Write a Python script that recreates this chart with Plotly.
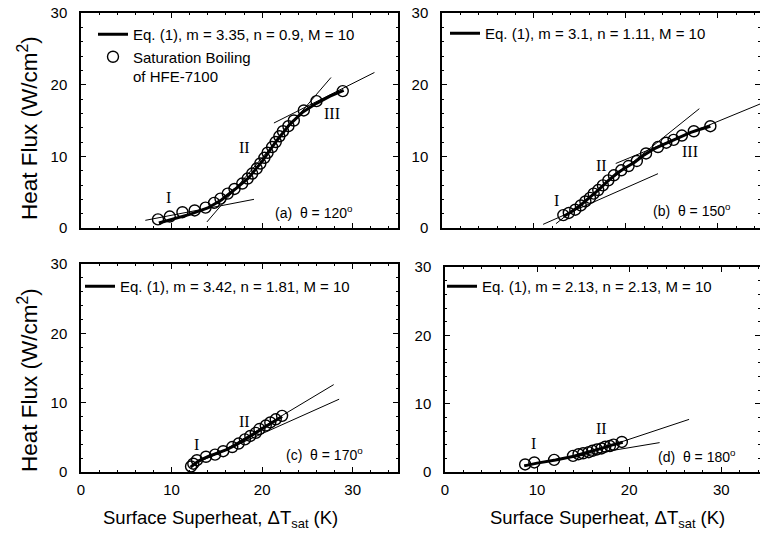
import plotly.graph_objects as go

# ---------------- data ----------------
# Panel (a)  theta = 120 deg
a_x = [8.5, 9.8, 11.2, 12.55, 13.75, 14.7, 15.4, 16.2, 16.95, 17.8, 18.4, 18.9, 19.4,
       19.8, 20.25, 20.6, 21.1, 21.5, 21.9, 22.3, 22.9, 23.5, 24.6, 26.0, 28.9]
a_y = [1.2, 1.6, 2.2, 2.45, 2.85, 3.5, 4.1, 4.8, 5.45, 6.2, 6.9, 7.6, 8.3,
       9.0, 9.8, 10.5, 11.3, 12.0, 12.8, 13.5, 14.2, 15.0, 16.4, 17.7, 19.1]
a_fit_x = [8.6, 10, 12, 14, 15.5, 17, 18.5, 20, 21.5, 23, 24.5, 26, 27.5, 29]
a_fit_y = [0.7, 1.2, 1.9, 2.8, 3.9, 5.4, 7.0, 9.3, 12.0, 14.4, 16.2, 17.4, 18.4, 19.2]
a_tangents = [([7.1, 19.1], [1.07, 4.0]),
              ([13.9, 27.6], [0.84, 21.0]),
              ([21.3, 32.4], [14.65, 21.7])]
a_regions = [("I", 9.7, 4.3), ("II", 18.0, 11.3), ("III", 27.7, 16.0)]

# Panel (b)  theta = 150 deg
b_x = [13.2, 13.8, 14.5, 15.1, 15.6, 16.1, 16.5, 17.0, 17.5, 18.1, 18.7, 19.5, 20.3,
       21.2, 22.2, 23.5, 24.4, 25.2, 26.1, 27.4, 29.2]
b_y = [1.8, 2.1, 2.55, 3.15, 3.7, 4.2, 4.8, 5.3, 5.95, 6.65, 7.35, 8.05, 8.65,
       9.35, 10.4, 11.3, 11.9, 12.3, 12.9, 13.5, 14.2]
b_fit_x = [13.2, 14, 15, 16, 17, 18, 19, 20, 21, 22, 23, 24, 25, 26, 27, 28, 29.2]
b_fit_y = [1.6, 2.2, 3.1, 4.15, 5.3, 6.5, 7.6, 8.45, 9.2, 10.2, 11.0, 11.6, 12.2, 12.8,
           13.3, 13.75, 14.2]
b_tangents = [([11.0, 23.5], [0.51, 7.58]),
              ([12.4, 28.0], [0.6, 16.65]),
              ([18.9, 34.6], [9.0, 17.3])]
b_regions = [("I", 12.45, 3.9), ("II", 17.3, 8.7), ("III", 27.0, 10.7)]

# Panel (c)  theta = 170 deg
c_x = [12.15, 12.4, 12.8, 13.8, 14.8, 15.7, 16.7, 17.4, 18.1, 18.7, 19.3, 19.7,
       20.4, 20.9, 21.5, 22.2]
c_y = [0.8, 1.2, 1.7, 2.2, 2.5, 3.0, 3.6, 4.1, 4.7, 5.2, 5.65, 6.2,
       6.7, 7.15, 7.6, 8.1]
c_fit_x = [12.1, 13, 14, 15, 16, 17, 18, 19, 20, 21, 22.2]
c_fit_y = [0.7, 1.6, 2.2, 2.7, 3.2, 3.85, 4.6, 5.4, 6.25, 7.1, 8.0]
c_tangents = [([12.2, 28.5], [0.97, 10.5]),
              ([15.0, 27.9], [2.5, 12.6])]
c_regions = [("I", 12.8, 4.0), ("II", 18.1, 7.3)]

# Panel (d)  theta = 180 deg
d_x = [8.7, 9.7, 11.85, 13.9, 14.5, 15.0, 15.6, 16.0, 16.5, 17.0, 17.4, 17.9, 18.3, 19.2]
d_y = [1.1, 1.4, 1.78, 2.36, 2.6, 2.74, 2.9, 3.1, 3.3, 3.45, 3.7, 3.8, 4.0, 4.4]
d_fit_x = [8.6, 10, 12, 14, 15, 16, 17, 18, 19.3]
d_fit_y = [0.9, 1.3, 1.75, 2.3, 2.7, 3.05, 3.45, 3.9, 4.35]
d_tangents = [([8.6, 23.3], [1.0, 4.3]),
              ([14.0, 26.5], [2.1, 7.7])]
d_regions = [("I", 9.6, 4.1), ("II", 17.0, 6.3)]

eq_labels = ["Eq. (1), m = 3.35, n = 0.9, M = 10",
             "Eq. (1), m = 3.1, n = 1.11, M = 10",
             "Eq. (1), m = 3.42, n = 1.81, M = 10",
             "Eq. (1), m = 2.13, n = 2.13, M = 10"]
panel_labels = ["(a)  θ = 120<sup>o</sup>", "(b)  θ = 150<sup>o</sup>",
                "(c)  θ = 170<sup>o</sup>", "(d)  θ = 180<sup>o</sup>"]
data_label = "Saturation Boiling<br>of HFE-7100"

x_ticks = [0, 10, 20, 30]
y_ticks = [0, 10, 20, 30]

# ---------------- layout geometry ----------------
W, H = 760, 536
SANS = "Liberation Sans, Arial, sans-serif"
SERIF = "Liberation Serif, Times New Roman, serif"

def px(v):
    return v / W

def py(v):
    return 1 - v / H

panels = [
    dict(xs=a_x, ys=a_y, fx=a_fit_x, fy=a_fit_y, tan=a_tangents, reg=a_regions,
         xdom=[px(81), px(398)], ydom=[py(228), py(13)], xr=[0, 35],
         lab=(30.3, 2.3), leg=(93, 18)),
    dict(xs=b_x, ys=b_y, fx=b_fit_x, fy=b_fit_y, tan=b_tangents, reg=b_regions,
         xdom=[px(442), 1.0], ydom=[py(228), py(13)], xr=[0, 34.6],
         lab=(31.7, 2.5), leg=(445, 17)),
    dict(xs=c_x, ys=c_y, fx=c_fit_x, fy=c_fit_y, tan=c_tangents, reg=c_regions,
         xdom=[px(81), px(398)], ydom=[py(472), py(264)], xr=[0, 35],
         lab=(31.4, 2.55), leg=(80, 270)),
    dict(xs=d_x, ys=d_y, fx=d_fit_x, fy=d_fit_y, tan=d_tangents, reg=d_regions,
         xdom=[px(445), 1.0], ydom=[py(472), py(267)], xr=[0, 34.2],
         lab=(31.8, 2.3), leg=(442, 270)),
]

fig = go.Figure()
annotations = []
layout = {}

for i, p in enumerate(panels):
    n = i + 1
    sfx = "" if n == 1 else str(n)
    xa, ya = "x" + sfx, "y" + sfx
    legname = "legend" + sfx

    # data circles
    fig.add_trace(go.Scatter(
        x=p["xs"], y=p["ys"], mode="markers", xaxis=xa, yaxis=ya,
        marker=dict(symbol="circle-open", size=11, color="black",
                    line=dict(width=1.4, color="black")),
        name=data_label, showlegend=(n == 1), legend=legname, legendrank=2))
    # Eq. (1) curve
    fig.add_trace(go.Scatter(
        x=p["fx"], y=p["fy"], mode="lines", xaxis=xa, yaxis=ya,
        line=dict(width=3, color="black"), name=eq_labels[i],
        showlegend=True, legend=legname, legendrank=1))
    # asymptote lines
    for tx, ty in p["tan"]:
        fig.add_trace(go.Scatter(
            x=tx, y=ty, mode="lines", xaxis=xa, yaxis=ya,
            line=dict(width=1, color="black"), showlegend=False, hoverinfo="skip"))
    # region labels
    for txt, rx, ry in p["reg"]:
        annotations.append(dict(x=rx, y=ry, xref=xa, yref=ya, text=txt,
                                showarrow=False, font=dict(family=SERIF, size=16, color="black")))
    annotations.append(dict(x=p["lab"][0], y=p["lab"][1], xref=xa, yref=ya,
                            text=panel_labels[i], showarrow=False, xanchor="right",
                            yanchor="middle", font=dict(family=SANS, size=14, color="black")))

    bottom_row = n >= 3
    axis_common = dict(showline=True, linecolor="black", linewidth=1.5, mirror="ticks",
                       ticks="inside", ticklen=5, tickwidth=1.2, tickcolor="black",
                       showgrid=False, zeroline=False, automargin=False,
                       tickfont=dict(family=SANS, size=15, color="black"),
                       minor=dict(dtick=2, ticks="inside", ticklen=2.5, tickwidth=1,
                                  tickcolor="black", showgrid=False))
    layout["xaxis" + sfx] = dict(axis_common, domain=p["xdom"], range=p["xr"],
                                 tickvals=x_ticks, anchor=ya,
                                 showticklabels=bottom_row, ticklabelstandoff=3)
    layout["yaxis" + sfx] = dict(axis_common, domain=p["ydom"], range=[0, 30],
                                 tickvals=y_ticks, anchor=xa, ticklabelstandoff=9)
    layout[legname] = dict(x=px(p["leg"][0]), y=py(p["leg"][1]), xanchor="left",
                           yanchor="top", bgcolor="rgba(0,0,0,0)",
                           font=dict(family=SANS, size=15, color="black"),
                           tracegroupgap=0, valign="top", itemclick=False)

# axis titles
ytitle = "Heat Flux (W/cm<sup>2</sup>)"
xtitle = "Surface Superheat, ΔT<sub>sat</sub> (K)"
for yc in (128, 380):
    annotations.append(dict(x=px(28), y=py(yc), xref="paper", yref="paper", text=ytitle,
                            textangle=-90, showarrow=False, xanchor="center", yanchor="middle",
                            font=dict(family=SANS, size=22.5, color="black")))
for xc in (220, 607):
    annotations.append(dict(x=px(xc), y=py(519), xref="paper", yref="paper", text=xtitle,
                            showarrow=False, xanchor="center", yanchor="middle",
                            font=dict(family=SANS, size=18.5, color="black")))

fig.update_layout(width=W, height=H, margin=dict(l=0, r=0, t=0, b=0, autoexpand=False),
                  template="none", paper_bgcolor="white", plot_bgcolor="white",
                  annotations=annotations, **layout)

fig.write_html("out.html", config={"displayModeBar": False},
               post_script="document.body.style.margin='0px';")
